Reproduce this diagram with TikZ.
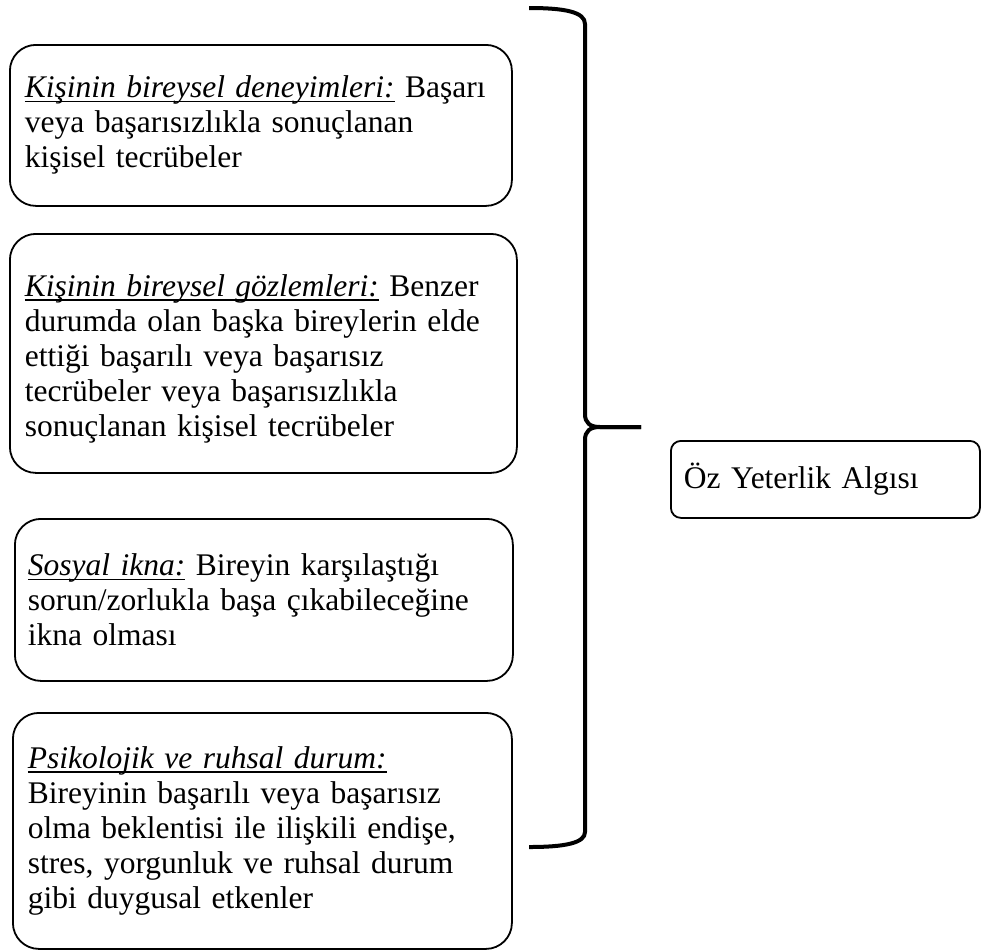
\documentclass[tikz,border=0pt]{standalone}
\usepackage{fontspec}
\setmainfont{Liberation Serif}
\begin{document}
\begin{tikzpicture}[x=1pt,y=-1pt,
  box/.style={draw=black,line width=1.8pt,rounded corners=26pt,anchor=north west,
    align=left,inner ysep=0pt,font=\fontsize{31.5}{35}\selectfont},
  rbox/.style={draw=black,line width=1.8pt,rounded corners=10pt,anchor=north west,
    align=left,inner ysep=0pt,font=\fontsize{31.5}{35}\selectfont},
  brace/.style={draw=black,line width=4pt,line cap=butt,line join=round}]
\useasboundingbox (0,0) rectangle (981,951);
\newcommand{\lab}[1]{\leavevmode\setbox0\hbox{\itshape #1}\rlap{\rule[-4.5pt]{\wd0}{1.6pt}}\box0\relax}
\node[box,text width=472pt,inner xsep=15pt,minimum height=161pt] (b1) at (9,44)
 {\lab{Kişinin bireysel deneyimleri:} Başarı\\veya başarısızlıkla sonuçlanan\\kişisel tecrübeler};
\node[box,text width=477pt,inner xsep=15pt,minimum height=239pt] (b2) at (9,233)
 {\rule{0pt}{33pt}\lab{Kişinin bireysel gözlemleri:} Benzer\\durumda olan başka bireylerin elde\\ettiği başarılı veya başarısız\\tecrübeler veya başarısızlıkla\\sonuçlanan kişisel tecrübeler};
\node[box,text width=472pt,inner xsep=13pt,minimum height=162pt] (b3) at (14,518)
 {\lab{Sosyal ikna:} Bireyin karşılaştığı\\sorun/zorlukla başa çıkabileceğine\\ikna olması};
\node[box,text width=469pt,inner xsep=15pt,minimum height=236pt] (b4) at (12,712)
 {\lab{Psikolojik ve ruhsal durum:}\\Bireyinin başarılı veya başarısız\\olma beklentisi ile ilişkili endişe,\\stres, yorgunluk ve ruhsal durum\\gibi duygusal etkenler};
\node[rbox,text width=283pt,inner xsep=13pt,minimum height=77pt] (rb) at (670,440)
 {Öz Yeterlik Algısı};
\coordinate (btop) at (529,8);
\coordinate (btip) at (641,427);
\coordinate (bbot) at (529,847);
\draw[brace] (btop) .. controls (565,8) and (585,12) .. (585,24) -- (585,414)
  .. controls (585,423) and (590,427) .. (600,427) -- (btip);
\draw[brace] (btip) -- (600,427) .. controls (590,427) and (585,431) .. (585,440)
  -- (585,832) .. controls (585,843) and (565,847) .. (bbot);
\end{tikzpicture}
\end{document}
